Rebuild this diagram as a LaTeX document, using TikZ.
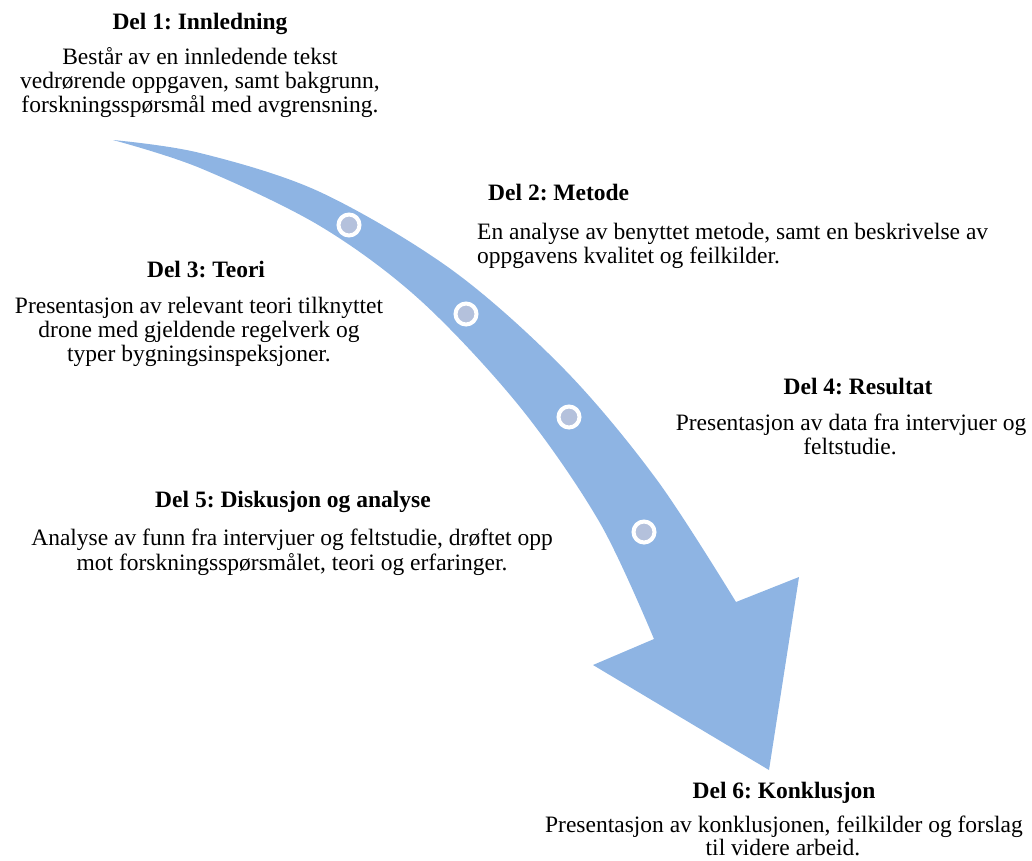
\documentclass[tikz,border=0pt]{standalone}
\usepackage{fontspec}
\setmainfont{Liberation Serif}
\definecolor{arrowblue}{RGB}{142,180,227}
\definecolor{dotfill}{RGB}{180,193,220}
\tikzset{
  ttl/.style={anchor=base, inner sep=0pt, font=\fontsize{23.5}{24}\selectfont\bfseries\frenchspacing},
  txt/.style={anchor=base, inner sep=0pt, font=\fontsize{23.5}{24}\selectfont\frenchspacing},
  dot/.style={circle, draw=white, line width=4pt, fill=dotfill, minimum size=21pt, inner sep=0pt}
}
\begin{document}
\begin{tikzpicture}[x=1pt,y=-1pt]
\useasboundingbox (0,0) rectangle (1032,860);
% arrow
\fill[arrowblue] plot[smooth, tension=0.55] coordinates {(113,140) (200,153) (320,192) (452,270) (565,370) (657,480) (736,602)}
  -- (799,577) -- (769,770) -- (593,665) -- (654,639)
  -- plot[smooth, tension=0.55] coordinates {(654,639) (600,523) (520,407) (420,300) (320,226) (200,168) (113,140)} -- cycle;
\node[dot] (d1) at (349,225) {};
\node[dot] (d2) at (466,314) {};
\node[dot] (d3) at (569,417) {};
\node[dot] (d4) at (644,532) {};
% Del 1
\node[ttl] (t1) at (200,29) {Del 1: Innledning};
\node[txt] (t1a) at (200,64) {Består av en innledende tekst};
\node[txt] (t1b) at (200,88) {vedrørende oppgaven, samt bakgrunn,};
\node[txt] (t1c) at (200,112) {forskningsspørsmål med avgrensning.};
% Del 2
\node[ttl, anchor=base west] (t2) at (488,200) {Del 2: Metode};
\node[txt, anchor=base west] (t2a) at (477,239) {En analyse av benyttet metode, samt en beskrivelse av};
\node[txt, anchor=base west] (t2b) at (477,263) {oppgavens kvalitet og feilkilder.};
% Del 3
\node[ttl] (t3) at (206,277) {Del 3: Teori};
\node[txt] (t3a) at (199,313) {Presentasjon av relevant teori tilknyttet};
\node[txt] (t3b) at (199,337) {drone med gjeldende regelverk og};
\node[txt] (t3c) at (199,361) {typer bygningsinspeksjoner.};
% Del 4
\node[ttl] (t4) at (858,394) {Del 4: Resultat};
\node[txt] (t4a) at (851,430) {Presentasjon av data fra intervjuer og};
\node[txt] (t4b) at (850,454) {feltstudie.};
% Del 5
\node[ttl] (t5) at (293,507) {Del 5: Diskusjon og analyse};
\node[txt] (t5a) at (292,545) {Analyse av funn fra intervjuer og feltstudie, drøftet opp};
\node[txt] (t5b) at (292,570) {mot forskningsspørsmålet, teori og erfaringer.};
% Del 6
\node[ttl] (t6) at (784,798) {Del 6: Konklusjon};
\node[txt] (t6a) at (784,832) {Presentasjon av konklusjonen, feilkilder og forslag};
\node[txt] (t6b) at (783,855) {til videre arbeid.};
\end{tikzpicture}
\end{document}
